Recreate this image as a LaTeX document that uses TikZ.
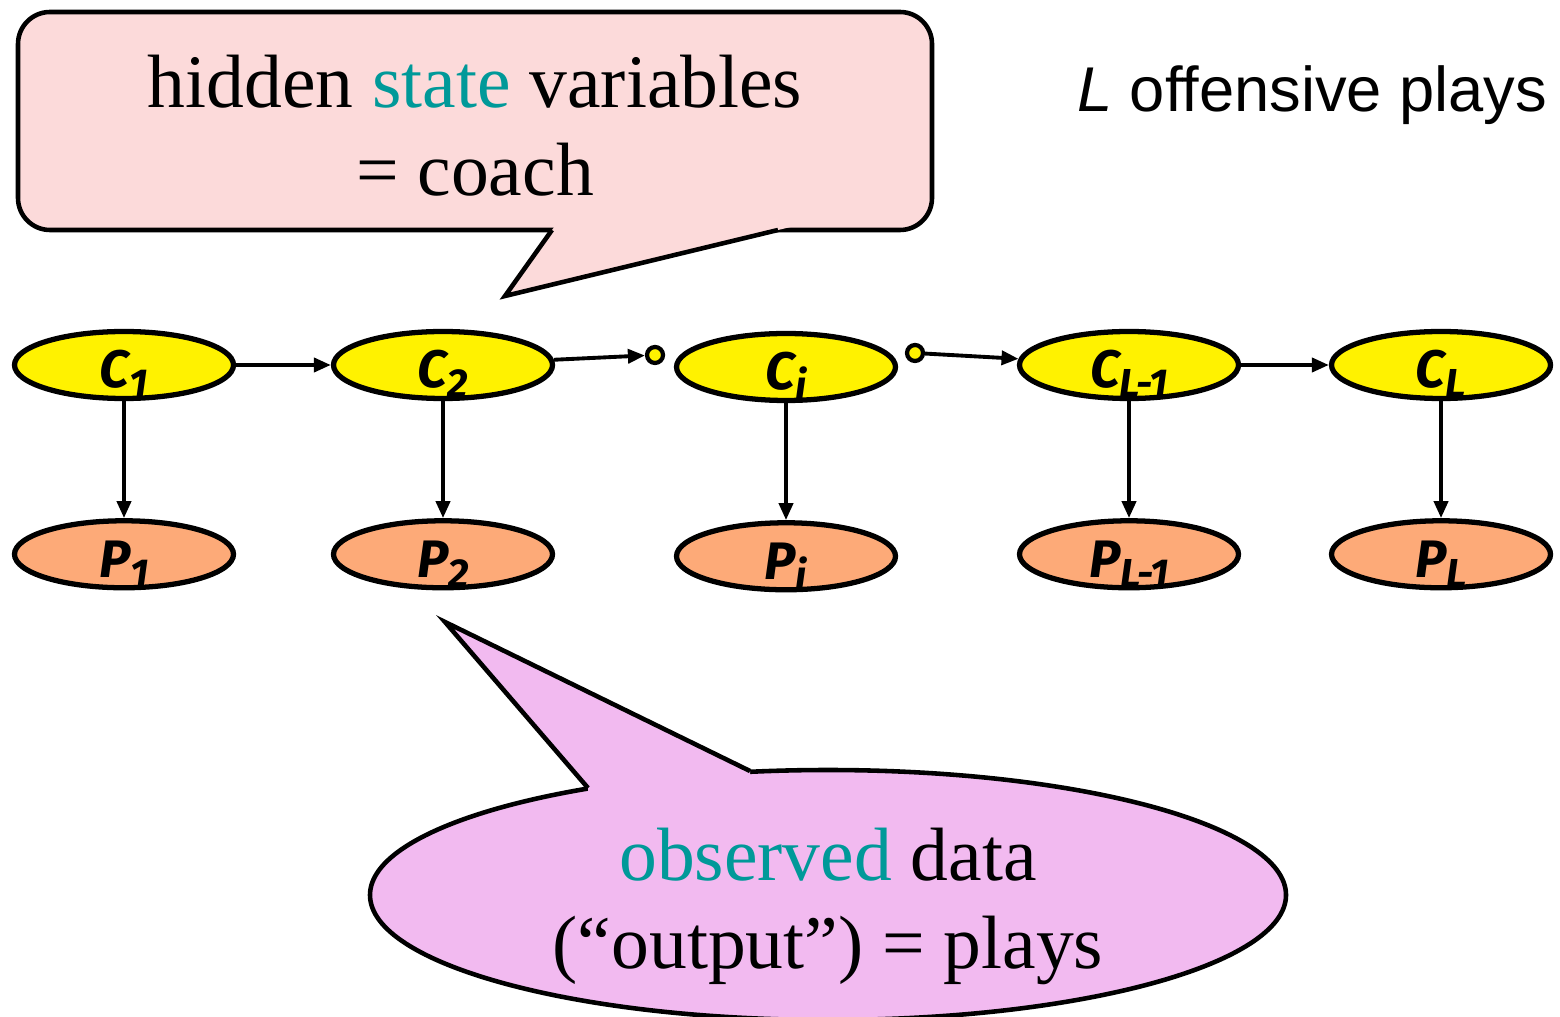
\documentclass[tikz,border=0pt]{standalone}
\usepackage{fontspec}
\setmainfont{Liberation Serif}
\setsansfont{Liberation Sans}
\newfontfamily\labelfont{Fira Sans}
\usetikzlibrary{positioning,shapes.geometric,arrows.meta}

\definecolor{coachfill}{RGB}{252,218,218}
\definecolor{datafill}{RGB}{242,186,240}
\definecolor{playfill}{RGB}{253,170,120}
\definecolor{keyword}{RGB}{0,153,153}

% lowered index in the node labels (kept out of the node size)
\newcommand\lowidx[1]{\raisebox{-0.10cm}[0pt][0pt]{\fontsize{11.5}{11.5}\selectfont #1}}

\begin{document}
\begin{tikzpicture}[node distance = 1.17cm,
	hidden/.style = { ellipse, draw=black, line width=1.5pt, fill=yellow,
	minimum width=2.19cm, minimum height=0.67cm, inner sep=0pt,
	text height=0.46cm, text depth=0pt,
	font=\labelfont\bfseries\itshape\fontsize{15}{15}\selectfont },
	observed/.style = { hidden, fill=playfill },
	gapdot/.style = { circle, draw=black, line width=1.2pt, fill=yellow,
	minimum size=0.16cm, inner sep=0pt },
	link/.style = { -{Triangle[length=0.17cm,width=0.14cm]}, line width=1.1pt },
	bubble/.style = { draw=black, line width=1.3pt },
	saying/.style = { align=center, font=\fontsize{21.5}{25}\selectfont } ]

  \useasboundingbox (0,0) rectangle (15.6,10.16);

  % speech bubble for the coach
  \node [name=coach, bubble, fill=coachfill, rounded corners=0.32cm,
	minimum width=9.14cm, minimum height=2.18cm] at (4.75,8.95) {};
  \coordinate (coachtip) at (5.05,7.20);
  \fill [coachfill] (5.563,7.92) -- (coachtip) -- (8.03,7.92) -- cycle;
  \draw [line width=1.3pt] (5.52,7.86) -- (coachtip) -- (7.78,7.86);
  \node [name=coachtext, saying] at (4.75,8.90)
	{hidden \textcolor{keyword}{state} variables\\= coach};

  \node [name=title, anchor=base east, inner sep=0pt,
	font=\sffamily\fontsize{18}{18}\selectfont]
	at (15.48,9.04) {\textit{L} offensive plays};

  % hidden chain
  \node [name=c1, hidden] at (1.24,6.51) { C\lowidx{1} };
  \node [name=c2, hidden] at (4.43,6.51) { C\lowidx{2} };
  \node [name=ci, hidden] at (7.86,6.49) { C\lowidx{i} };
  \node [name=cl1, hidden] at (11.29,6.51) { C\lowidx{L-1} };
  \node [name=cl, hidden] at (14.41,6.51) { C\lowidx{L} };
  \node [name=dotl, gapdot] at (6.55,6.61) {};
  \node [name=dotr, gapdot] at (9.15,6.63) {};

  % observed plays
  \node [name=p1, observed, below=of c1] { P\lowidx{1} };
  \node [name=p2, observed, below=of c2] { P\lowidx{2} };
  \node [name=pi, observed, below=of ci] { P\lowidx{i} };
  \node [name=pl1, observed, below=of cl1] { P\lowidx{L-1} };
  \node [name=pl, observed, below=of cl] { P\lowidx{L} };

  \draw [link] (c1) -- (c2);
  \draw [link] (c2) -- (dotl);
  \draw [link] (dotr) -- (cl1);
  \draw [link] (cl1) -- (cl);
  \foreach \n in {1,2,i,l1,l}
	\draw [link] (c\n) -- (p\n);

  % speech bubble for the data
  \node [name=data, bubble, ellipse, fill=datafill,
	minimum width=9.16cm, minimum height=2.5cm] at (8.28,1.21) {};
  \coordinate (datatip) at (4.45,3.94);
  \fill [datafill] (5.88,2.28) -- (datatip) -- (7.50,2.45) -- (7.50,2.30)
	-- (5.88,2.13) -- cycle;
  \draw [line width=1.3pt] (5.88,2.28) -- (datatip) -- (7.50,2.45);
  \node [name=datatext, saying] at (8.28,1.10)
	{\textcolor{keyword}{observed} data\\(``output'') = plays};
\end{tikzpicture}
\end{document}
